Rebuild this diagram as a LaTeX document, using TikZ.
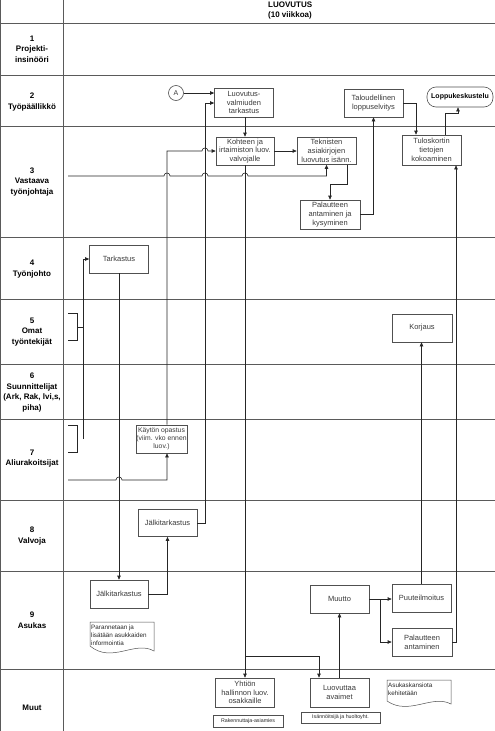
\documentclass[tikz,border=0pt]{standalone}
\usepackage{fontspec}
\setmainfont{Liberation Sans}
\setsansfont{Liberation Sans}
\usetikzlibrary{arrows.meta,calc}
\definecolor{gridc}{HTML}{5A5A5A}
\definecolor{boxc}{HTML}{505050}
\definecolor{txtc}{HTML}{3A3A3A}
\begin{document}
\begin{tikzpicture}[x=1pt,y=-1pt,
  grid/.style={draw=gridc,line width=0.8pt},
  lbl/.style={font=\fontsize{8}{10.5}\selectfont\bfseries,align=center,text=black},
  box/.style={draw=boxc,line width=0.6pt,align=center,font=\fontsize{7.5}{8.8}\selectfont,text=txtc,inner sep=1pt,minimum width=59pt,minimum height=28pt},
  arr/.style={draw=black!85,line width=0.6pt,-{Triangle[length=4pt,width=3.4pt]}},
  ln/.style={draw=black!85,line width=0.6pt},
  doc/.style={draw=boxc,line width=0.5pt},
  doct/.style={font=\fontsize{6.3}{8}\selectfont,align=left,text=black!85,inner sep=0pt},
  tiny/.style={draw=boxc,line width=0.5pt,font=\fontsize{5.3}{6}\selectfont,text=black!85,inner sep=1pt}
]
\useasboundingbox (0,0) rectangle (495,731);

% grid
\foreach \yy in {23,75,126,237,299,364,419,500,571,669}
  \draw[grid] (0,\yy) -- (495,\yy);
\draw[grid] (0.5,0) -- (0.5,731);
\draw[grid] (63,0) -- (63,731);

% header
\node[lbl,align=left,anchor=north west,inner sep=0pt] (head) at (268,1.5) {LUOVUTUS\\(10 viikkoa)};

% row labels
\node[lbl] (r1) at (32,49) {1\\Projekti-\\insinööri};
\node[lbl] (r2) at (32,102) {2\\Työpäällikkö};
\node[lbl] (r3) at (32,182) {3\\Vastaava\\työnjohtaja};
\node[lbl] (r4) at (32,269) {4\\Työnjohto};
\node[lbl] (r5) at (32,332) {5\\Omat\\työntekijät};
\node[lbl] (r6) at (32,392.5) {6\\Suunnittelijat\\(Ark, Rak, lvi,s,\\piha)};
\node[lbl] (r7) at (32,458.5) {7\\Aliurakoitsijat};
\node[lbl] (r8) at (32,536) {8\\Valvoja};
\node[lbl] (r9) at (32,620) {9\\Asukas};
\node[lbl] (r10) at (32,708) {Muut};

% nodes
\node[draw=boxc,line width=0.6pt,circle,minimum size=15pt,inner sep=0pt,font=\fontsize{7}{8}\selectfont,text=txtc] (A) at (176,93) {A};
\node[box,minimum height=29pt] (luov) at (244,102.5) {Luovutus-\\valmiuden\\tarkastus};
\node[box,minimum width=58pt] (kohteen) at (245,151) {Kohteen ja\\irtaimiston luov.\\valvojalle};
\node[box,minimum height=27pt] (tekn) at (326.5,151) {Teknisten\\asiakirjojen\\luovutus isänn.};
\node[box,minimum width=60pt,minimum height=29pt] (pal) at (330,214.5) {Palautteen\\antaminen ja\\kysyminen};
\node[box] (talo) at (373.5,103) {Taloudellinen\\loppuselvitys};
\node[box,minimum height=30pt] (tulos) at (431.5,150) {Tuloskortin\\tietojen\\kokoaminen};
\node[draw=boxc,line width=0.6pt,rounded corners=9pt,minimum width=66pt,minimum height=20pt,inner sep=0.5pt,font=\fontsize{7}{8.5}\selectfont\bfseries,text=black] (loppu) at (460,97) {Loppukeskustelu};
\node[box] (tark) at (119,259) {Tarkastus};
\node[box,minimum width=60pt] (korj) at (422,328) {Korjaus};
\node[box,minimum width=49pt,inner sep=0.3pt,font=\fontsize{6.8}{8.2}\selectfont] (kaytto) at (161.5,439) {Käytön opastus\\(viim. vko ennen\\luov.)};
\node[box,minimum height=27pt] (valv) at (167.5,523) {Jälkitarkastus};
\node[box,minimum width=58pt] (jalk) at (119,594) {Jälkitarkastus};
\node[box] (muutto) at (339.5,599) {Muutto};
\node[box] (puute) at (421.5,598) {Puuteilmoitus};
\node[box,minimum width=60pt] (palant) at (422,642) {Palautteen\\antaminen};
\node[box,minimum height=29pt] (yhtio) at (245,692.5) {Yhtiön\\hallinnon luov.\\osakkaille};
\node[box,minimum height=29pt] (avaimet) at (339.5,692.5) {Luovuttaa\\avaimet};

% document shapes
\draw[doc] (90,622) -- (154,622) -- (154,651) .. controls (135,640) and (112,664) .. (90,646) -- cycle;
\node[doct,anchor=north west] (paran) at (91,624.5) {Parannetaan ja\\lisätään asukkaiden\\informointia};
\draw[doc] (387,680) -- (451,680) -- (451,704) .. controls (432,694) and (409,716) .. (387,701) -- cycle;
\node[doct,anchor=north west] (asuk) at (388,682.5) {Asukaskansiota\\kehitetään};
\node[tiny,minimum width=70pt,minimum height=12pt] (rak) at (248,721) {Rakennuttaja-asiamies};
\node[tiny,minimum width=79pt,minimum height=11pt] (isan) at (340.5,717.5) {Isännöitsijä ja huoltoyht.};

% brackets
\draw[ln] (68,313) -- (77,313) -- (77,340) -- (68,340);
\draw[ln] (77,327) -- (83,327);
\draw[ln] (68,425) -- (77,425) -- (77,452) -- (68,452);

% connectors
\draw[arr] (A) -- (luov.west |- A);
\draw[arr] (valv.east) -- (205,523) -- (205,103) -- (luov.west |- 0,103);
\draw[arr] (luov.south -| kohteen.north) -- (kohteen.north);
\draw[arr] (kohteen.east) -- (tekn.west);
\draw[arr] ([xshift=5.5pt]kaytto.north) -- (167,151) -- (202,151) .. controls (202,147) and (208,147) .. (208,151) -- (kohteen.west);
\coordinate (in3) at (68,176);
\draw[arr] (in3) -- (164,176) .. controls (164,172) and (170,172) .. (170,176)
  -- (202,176) .. controls (202,172) and (208,172) .. (208,176)
  -- (242,176) .. controls (242,172) and (248,172) .. (248,176)
  -- (326.5,176) -- (tekn.south);
\draw[arr] ([xshift=20.5pt]tekn.south) -- ++(0,19) -| (pal.north);
\draw[arr] (pal.east) -| (talo.south);
\draw[arr] (talo.east) -| ([xshift=-15.5pt]tulos.north);
\draw[arr] ([xshift=13.5pt]tulos.north) -- ++(0,-21) -| ([xshift=-2pt]loppu.south);
\draw[arr] (palant.east) -| ([xshift=24.5pt]tulos.south);
\draw[arr] (puute.north) -- (puute.north |- korj.south);
\draw[arr] (muutto.east) -- (puute.west |- muutto.east);
\draw[arr] (muutto.east) -- ++(11,0) |- (palant.west);
\draw[arr] (avaimet.north) -- (muutto.south);
\draw[arr] (kohteen.south) -- (yhtio.north);
\coordinate (br) at (245,656);
\draw[arr] (br) -| ([xshift=-20.5pt]avaimet.north);
\draw[arr] (83,439) -- (83,259) -- (tark.west);
\draw[arr] (tark.south) -- (jalk.north);
\coordinate (in7) at (68,480);
\draw[arr] (in7) -- (116,480) .. controls (116,476) and (122,476) .. (122,480) -- (167,480) -- ([xshift=5.5pt]kaytto.south);
\draw[arr] (jalk.east) -| (valv.south);
\end{tikzpicture}
\end{document}
